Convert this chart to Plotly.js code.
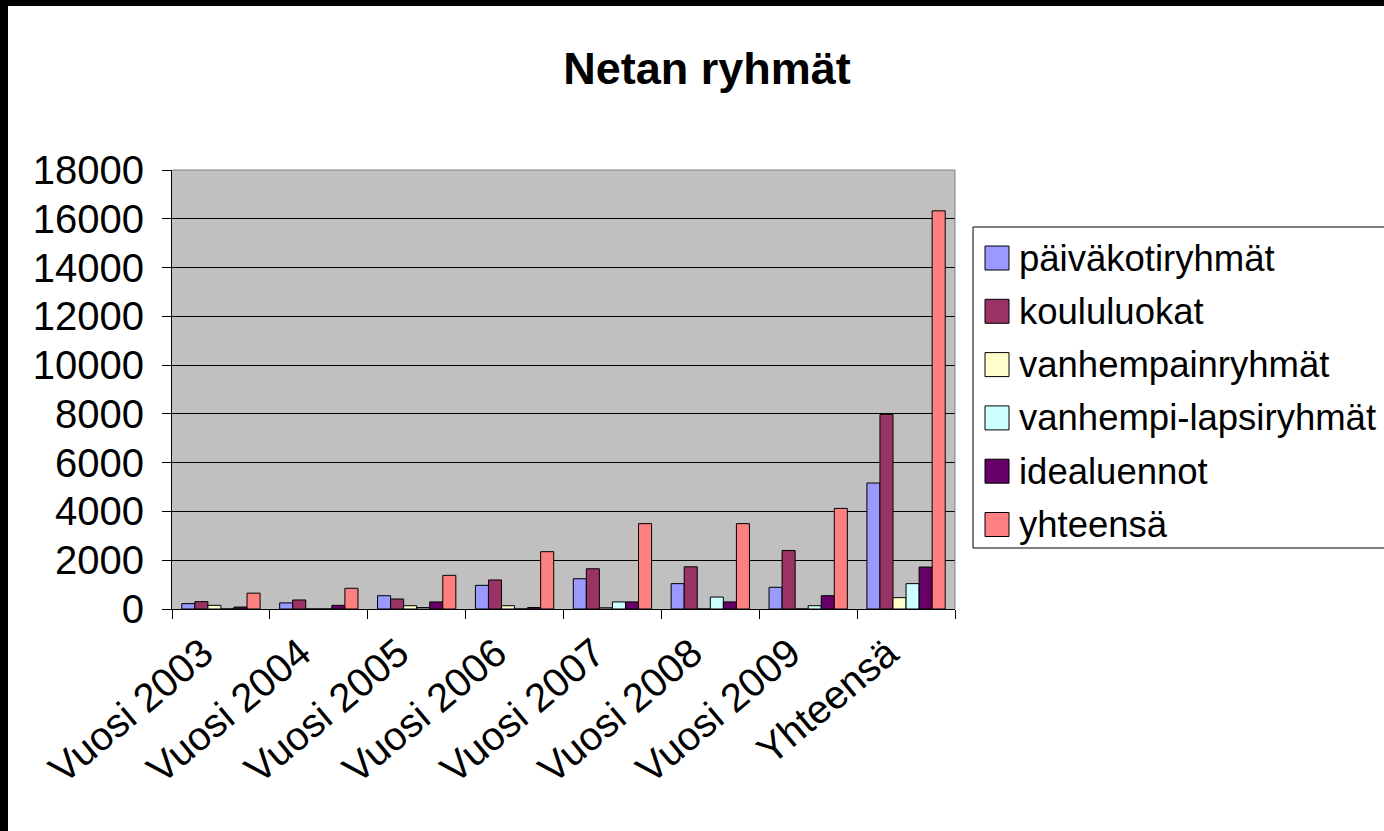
<!DOCTYPE html>
<html>
<head>
<meta charset="utf-8">
<script src="https://cdn.plot.ly/plotly-3.0.1.min.js"></script>
<style>
  html, body { margin: 0; padding: 0; background: #000; width: 1384px; height: 831px; overflow: hidden; }
  #chart { position: absolute; left: 8px; top: 6px; width: 1376px; height: 825px; background: #fff; }
</style>
</head>
<body>
<div id="chart"></div>
<script>
// ---- Data ----
const categories = ['Vuosi 2003', 'Vuosi 2004', 'Vuosi 2005', 'Vuosi 2006', 'Vuosi 2007', 'Vuosi 2008', 'Vuosi 2009', 'Yhteensä'];
const seriesNames = ['päiväkotiryhmät', 'koululuokat', 'vanhempainryhmät', 'vanhempi-lapsiryhmät', 'idealuennot', 'yhteensä'];
const paivakotiryhmat   = [220, 250, 545, 970, 1240, 1040, 890, 5165];
const koululuokat       = [300, 370, 410, 1190, 1650, 1730, 2400, 7980];
const vanhempainryhmat  = [150, 0, 135, 135, 50, 0, 0, 465];
const vanhempiLapsi     = [0, 0, 60, 0, 290, 490, 135, 1040];
const idealuennot       = [80, 150, 290, 60, 290, 290, 545, 1720];
const yhteensa          = [650, 850, 1380, 2350, 3500, 3500, 4125, 16325];
const seriesValues = [paivakotiryhmat, koululuokat, vanhempainryhmat, vanhempiLapsi, idealuennot, yhteensa];
const colors = ['#9999FF', '#993366', '#FFFFCC', '#CCFFFF', '#660066', '#FF8080'];

const FONT = 'Arial, "Liberation Sans", sans-serif';

// plot area geometry in div pixels
const W = 1376, H = 825;
const M = { l: 164, r: 429, t: 164, b: 222 };
const pw = W - M.l - M.r, ph = H - M.t - M.b;
// convert page pixel -> paper coords (div offset 8,6)
const px = x => (x - 8 - M.l) / pw;
const py = y => (H - M.b - (y - 6)) / ph;

const traces = seriesNames.map((name, i) => ({
  type: 'bar',
  name: name,
  x: categories,
  y: seriesValues[i],
  marker: { color: colors[i], line: { color: '#000', width: 1 } },
  showlegend: false,
  hoverinfo: 'x+y+name'
}));

// custom legend (box + swatches + labels)
const shapes = [
  { type: 'line', xref: 'paper', yref: 'paper', x0: 0, x1: 1, y0: 1, y1: 1, line: { color: '#808080', width: 1 } },
  { type: 'line', xref: 'paper', yref: 'paper', x0: 1, x1: 1, y0: 0, y1: 1, line: { color: '#808080', width: 1 } },
  { type: 'rect', xref: 'paper', yref: 'paper', x0: px(973), x1: px(1420), y0: py(548), y1: py(227),
    line: { color: '#000', width: 1 }, fillcolor: 'rgba(0,0,0,0)' }
];
const annotations = [];
const legTop = 258, legStep = 53.3;
seriesNames.forEach((name, i) => {
  const cy = legTop + i * legStep;
  shapes.push({ type: 'rect', xref: 'paper', yref: 'paper',
    x0: px(985), x1: px(1009), y0: py(cy + 12), y1: py(cy - 12),
    line: { color: '#000', width: 1 }, fillcolor: colors[i] });
  annotations.push({ xref: 'paper', yref: 'paper', x: px(1017), y: py(cy), xanchor: 'left', yanchor: 'middle',
    text: name, showarrow: false, font: { family: FONT, size: 36.5, color: '#000' } });
});

const layout = {
  width: W, height: H,
  margin: M,
  paper_bgcolor: '#fff',
  plot_bgcolor: '#C0C0C0',
  barmode: 'group',
  bargap: 0.2,
  bargroupgap: 0,
  showlegend: false,
  title: { text: '<b>Netan ryhmät</b>', font: { family: FONT, size: 45, color: '#000' },
           xref: 'paper', x: px(707), xanchor: 'center', yref: 'container', y: 1 - (68 - 6) / H, yanchor: 'middle' },
  xaxis: {
    type: 'category',
    tickson: 'boundaries',
    ticks: 'outside', ticklen: 9, tickcolor: '#000', tickwidth: 1,
    showline: true, linecolor: '#000', linewidth: 1,
    showgrid: false,
    tickangle: -40,
    ticklabelstandoff: 4,
    ticklabelshift: -18,
    tickfont: { family: FONT, size: 40, color: '#000' }
  },
  yaxis: {
    range: [0, 18000], dtick: 2000, tick0: 0,
    ticks: 'outside', ticklen: 9, tickcolor: '#000', tickwidth: 1,
    showline: true, linecolor: '#000', linewidth: 1,
    showgrid: true, gridcolor: '#000', gridwidth: 1,
    zeroline: false,
    tickformat: 'd',
    ticklabelstandoff: 10,
    tickfont: { family: FONT, size: 40, color: '#000' }
  },
  shapes: shapes,
  annotations: annotations
};

Plotly.newPlot('chart', traces, layout, { displayModeBar: false, staticPlot: true });
</script>
</body>
</html>
